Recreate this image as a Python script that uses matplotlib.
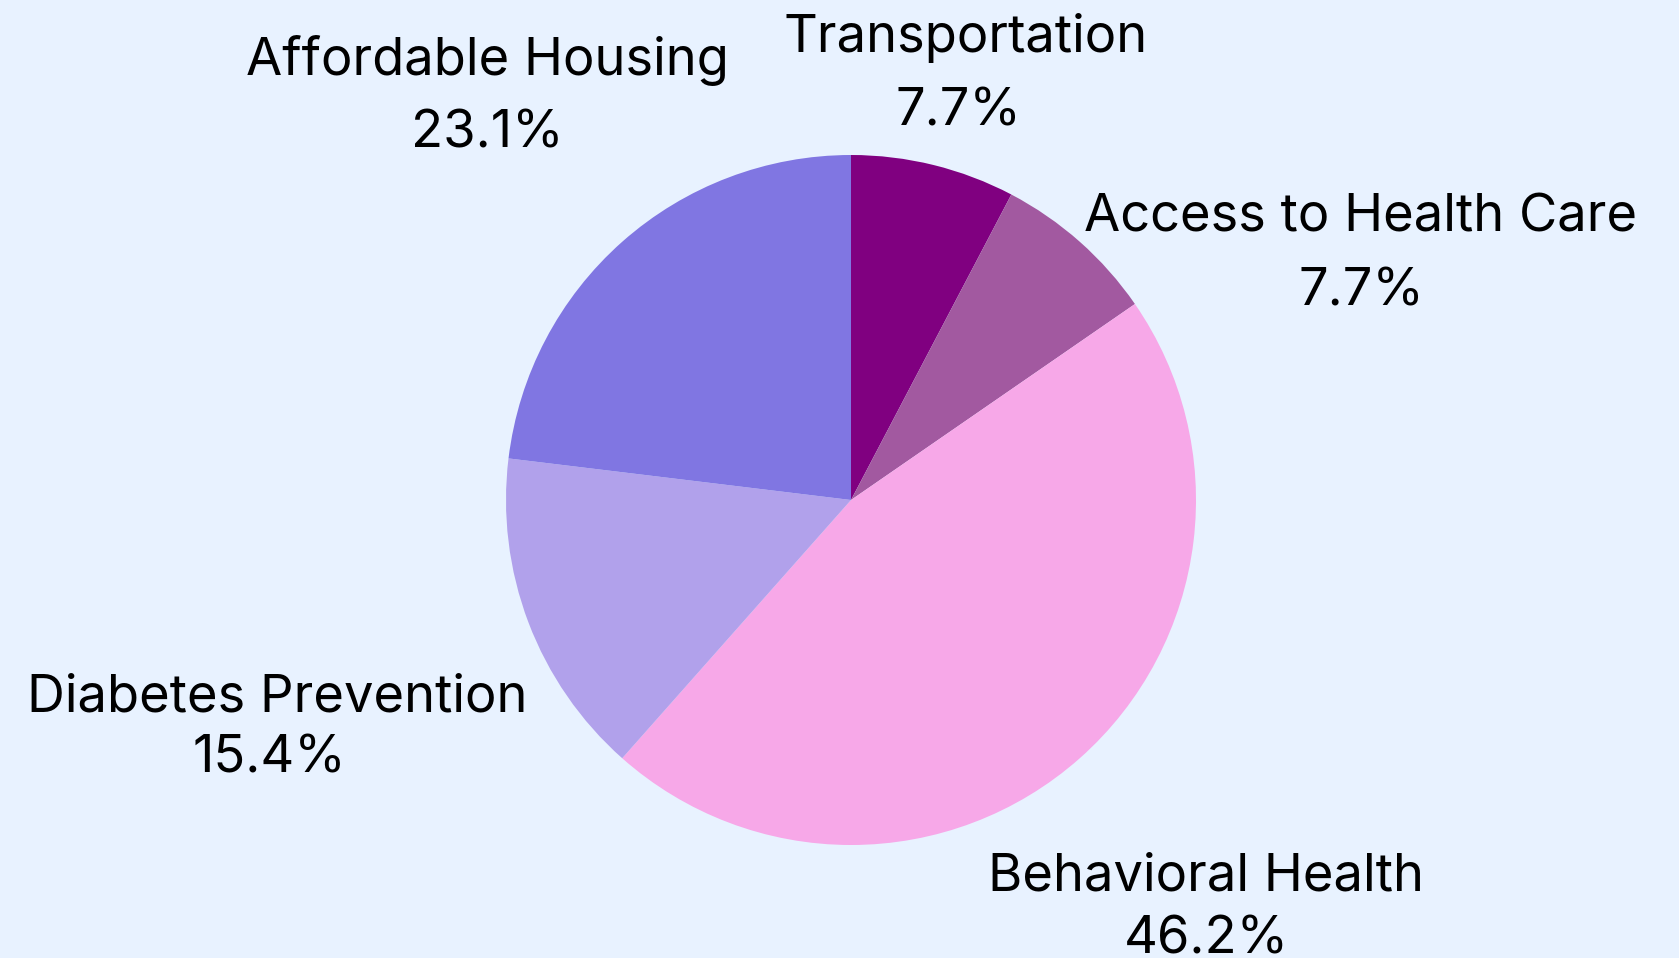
import matplotlib
matplotlib.use("Agg")
import matplotlib.pyplot as plt

categories = ["Transportation", "Access to Health Care", "Behavioral Health",
              "Diabetes Prevention", "Affordable Housing"]
values = [1, 1, 6, 2, 3]
colors = ["#800080", "#A259A0", "#F7A8E8", "#B1A1EB", "#8076E2"]

# text layout only (pixels from top-left): name line (x, baseline), percent line (x, baseline)
label_layout = {
    "Transportation": ((966, 51.7), (958, 125)),
    "Access to Health Care": ((1361, 231.7), (1361, 305)),
    "Behavioral Health": ((1206, 890.7), (1206, 953)),
    "Diabetes Prevention": ((277, 711), (269, 772.7)),
    "Affordable Housing": ((487.5, 75), (487.5, 147.7)),
}

bg = "#E8F2FF"
plt.rcParams['font.family'] = ['Inter', 'DejaVu Sans']

W, H = 1679, 958
fig = plt.figure(figsize=(W / 100, H / 100), dpi=100, facecolor=bg)
ax = fig.add_axes([0, 0, 1, 1])
ax.set_facecolor(bg)

cx, cy, r = 851, 500, 345

total = sum(values)
wedges, _ = ax.pie(values, colors=colors, startangle=90, counterclock=False,
                   radius=1.0, center=(0, 0), frame=True,
                   wedgeprops=dict(linewidth=0))
ax.set_xlim(-cx / r, (W - cx) / r)
ax.set_ylim(-(H - cy) / r, cy / r)
ax.set_aspect("auto")
ax.axis("off")

fs = 37.8
for cat, v in zip(categories, values):
    pct = 100 * v / total
    (nx, ny), (px, py) = label_layout[cat]
    fig.text(nx / W, 1 - ny / H, cat, ha="center", va="baseline",
             fontsize=fs, color="black")
    fig.text(px / W, 1 - py / H, f"{pct:.1f}%", ha="center", va="baseline",
             fontsize=fs, color="black")

fig.savefig("out.png", dpi=100, facecolor=bg)
